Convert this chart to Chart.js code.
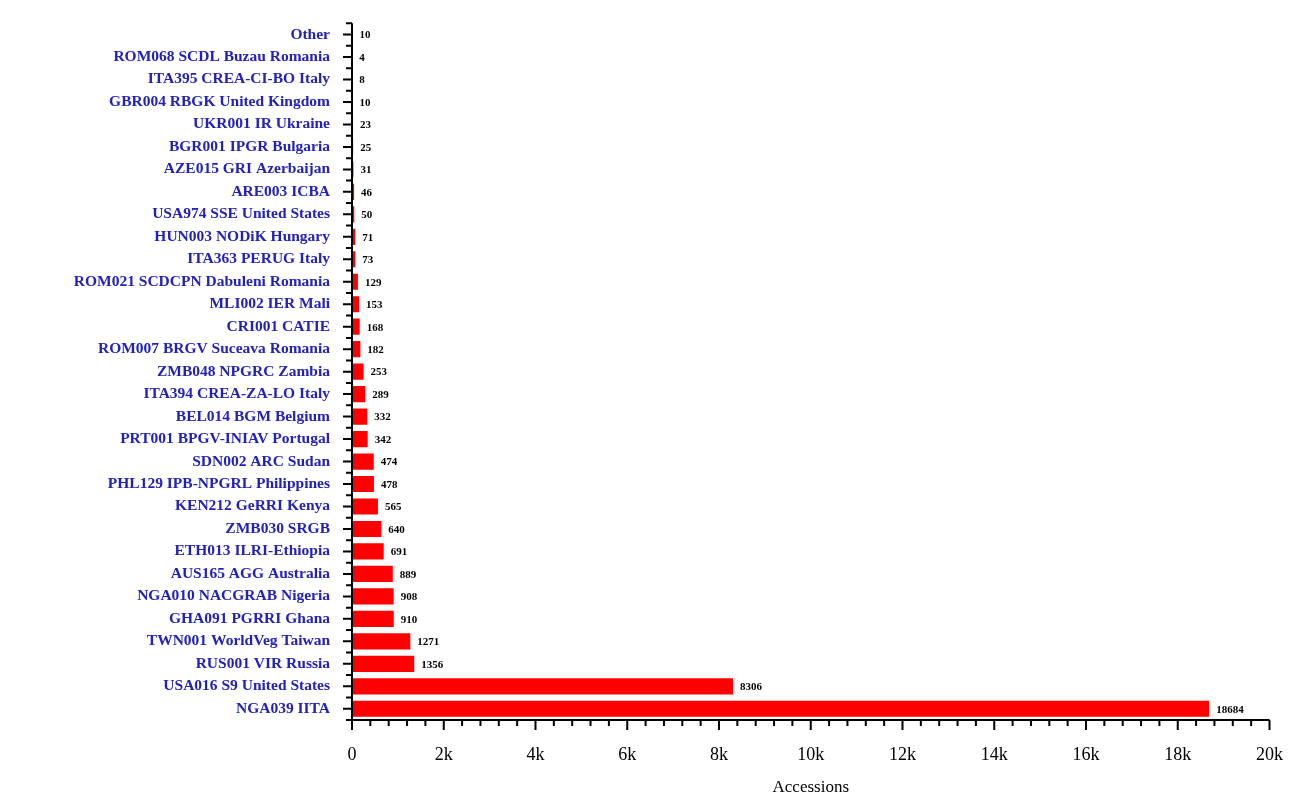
<!DOCTYPE html>
<html>
<head>
<meta charset="utf-8">
<script src="https://cdn.jsdelivr.net/npm/chart.js@4"></script>
<style>
  html, body { margin: 0; padding: 0; background: #fff; }
  #wrap { width: 1299px; height: 798px; }
</style>
</head>
<body>
<div id="wrap"><canvas id="myChart"></canvas></div>
<script>
const labels = [
  'Other', 'ROM068 SCDL Buzau Romania', 'ITA395 CREA-CI-BO Italy', 'GBR004 RBGK United Kingdom',
  'UKR001 IR Ukraine', 'BGR001 IPGR Bulgaria', 'AZE015 GRI Azerbaijan', 'ARE003 ICBA',
  'USA974 SSE United States', 'HUN003 NODiK Hungary', 'ITA363 PERUG Italy', 'ROM021 SCDCPN Dabuleni Romania',
  'MLI002 IER Mali', 'CRI001 CATIE', 'ROM007 BRGV Suceava Romania', 'ZMB048 NPGRC Zambia',
  'ITA394 CREA-ZA-LO Italy', 'BEL014 BGM Belgium', 'PRT001 BPGV-INIAV Portugal', 'SDN002 ARC Sudan',
  'PHL129 IPB-NPGRL Philippines', 'KEN212 GeRRI Kenya', 'ZMB030 SRGB', 'ETH013 ILRI-Ethiopia',
  'AUS165 AGG Australia', 'NGA010 NACGRAB Nigeria', 'GHA091 PGRRI Ghana', 'TWN001 WorldVeg Taiwan',
  'RUS001 VIR Russia', 'USA016 S9 United States', 'NGA039 IITA'
];
const accessions = [10, 4, 8, 10, 23, 25, 31, 46, 50, 71, 73, 129, 153, 168, 182, 253,
  289, 332, 342, 474, 478, 565, 640, 691, 889, 908, 910, 1271, 1356, 8306, 18684];

// value labels and axis ticks (major + minor)
const extras = {
  id: 'extras',
  afterDatasetsDraw(chart) {
    const { ctx, chartArea: { left, bottom }, scales: { x, y } } = chart;
    ctx.save();
    ctx.font = 'bold 11px "Liberation Serif"';
    ctx.fillStyle = '#000';
    ctx.textBaseline = 'middle';
    ctx.textAlign = 'left';
    accessions.forEach((v, i) => {
      ctx.fillText(String(v), x.getPixelForValue(v) + 7, y.getPixelForValue(i) + 1);
    });
    ctx.strokeStyle = '#000';
    ctx.lineWidth = 2;
    ctx.beginPath();
    ctx.moveTo(left, y.top); ctx.lineTo(left, bottom); ctx.lineTo(x.right, bottom);
    for (let v = 0; v <= 20000; v += 400) {
      const px = x.getPixelForValue(v);
      ctx.moveTo(px, bottom); ctx.lineTo(px, bottom + (v % 2000 === 0 ? 10 : 6));
    }
    for (let i = -0.5; i <= labels.length - 0.5; i += 0.5) {
      const py = y.getPixelForValue(i);
      ctx.moveTo(left, py); ctx.lineTo(left - (Number.isInteger(i) ? 9 : 6), py);
    }
    ctx.stroke();
    ctx.restore();
  }
};

new Chart(document.getElementById('myChart'), {
  type: 'bar',
  data: {
    labels,
    datasets: [{
      data: accessions,
      backgroundColor: '#ff0000',
      borderWidth: 0,
      barPercentage: 0.72,
      categoryPercentage: 1
    }]
  },
  options: {
    indexAxis: 'y',
    responsive: true,
    maintainAspectRatio: false,
    animation: false,
    layout: { padding: { top: -15, right: 5, left: 0, bottom: 0 } },
    scales: {
      x: {
        min: 0, max: 20000,
        grid: { display: false },
        border: { display: false },
        ticks: {
          stepSize: 2000,
          padding: 16,
          color: '#000',
          font: { family: 'Liberation Serif', size: 18 },
          callback: v => v === 0 ? '0' : (v / 1000) + 'k'
        },
        title: {
          display: true, text: 'Accessions', color: '#000',
          font: { family: 'Liberation Serif', size: 17 },
          padding: { top: 20, bottom: 0 }
        },
        afterFit: s => { s.height = 78; }
      },
      y: {
        grid: { display: false },
        border: { display: false },
        ticks: {
          padding: 14,
          color: '#2222bb',
          font: { family: 'Liberation Serif', size: 15.5, weight: 'bold' }
        },
        afterFit: s => { s.width = 352; }
      }
    },
    plugins: { legend: { display: false }, tooltip: { enabled: false } }
  },
  plugins: [extras]
});
</script>
</body>
</html>
